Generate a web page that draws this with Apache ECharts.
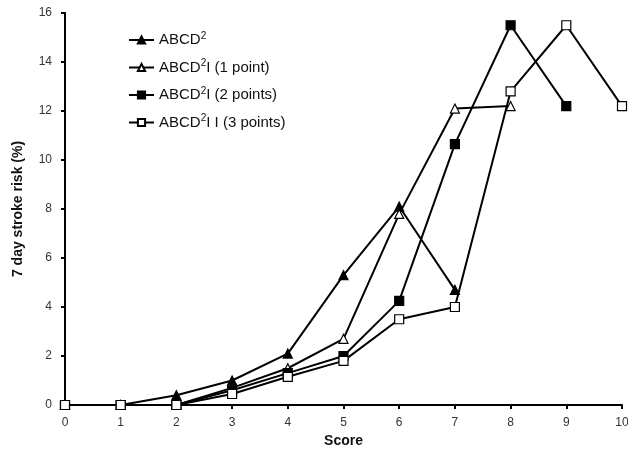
<!DOCTYPE html>
<html>
<head>
<meta charset="utf-8">
<script src="https://cdn.jsdelivr.net/npm/echarts@6/dist/echarts.min.js"></script>
<style>
html, body { margin: 0; padding: 0; background: #fff; }
#main { width: 628px; height: 455px; }
</style>
</head>
<body>
<div id="main"></div>
<script>
// score on x, 7 day stroke risk (%) on y
const scores = [0, 1, 2, 3, 4, 5, 6, 7, 8, 9, 10];
const abcd2 = [0, 0, 0.4, 1.0, 2.1, 5.3, 8.1, 4.7];
const abcd2i1 = [0, 0, 0, 0.7, 1.5, 2.7, 7.8, 12.1, 12.2];
const abcd2i2 = [0, 0, 0, 0.6, 1.3, 2.0, 4.25, 10.65, 15.5, 12.2];
const abcd2i3 = [0, 0, 0, 0.45, 1.15, 1.8, 3.5, 4.0, 12.8, 15.5, 12.2];
const yTicks = [0, 2, 4, 6, 8, 10, 12, 14, 16];

const names = ['ABCD2', 'ABCD2I1', 'ABCD2I2', 'ABCD2I3'];
const labels = {
    ABCD2: 'ABCD{sup|2}',
    ABCD2I1: 'ABCD{sup|2}I (1 point)',
    ABCD2I2: 'ABCD{sup|2}I (2 points)',
    ABCD2I3: 'ABCD{sup|2}I I (3 points)'
};

function pairs(vals) {
    return vals.map((v, i) => [scores[i], v]);
}

function line(name, vals, symbol, filled) {
    return {
        name: name,
        type: 'line',
        data: pairs(vals),
        symbol: symbol,
        symbolSize: 9,
        lineStyle: { color: '#000', width: 2 },
        itemStyle: {
            color: filled ? '#000' : '#fff',
            borderColor: '#000',
            borderWidth: 1.2
        },
        emphasis: { disabled: true },
        animation: false
    };
}

const chart = echarts.init(document.getElementById('main'));
chart.setOption({
    backgroundColor: '#fff',
    textStyle: { fontFamily: 'Liberation Sans, Arial, sans-serif' },
    grid: { left: 65, right: 6, top: 13, bottom: 50, outerBoundsMode: 'none' },
    legend: {
        orient: 'vertical',
        left: 123,
        top: 26,
        itemGap: 11,
        itemWidth: 25,
        itemHeight: 9,
        data: names,
        formatter: n => labels[n],
        textStyle: {
            color: '#111',
            fontSize: 15,
            rich: {
                sup: { fontSize: 10, verticalAlign: 'top', padding: [0, 0, 8, 0] }
            }
        }
    },
    xAxis: {
        type: 'value',
        min: 0,
        max: 10,
        interval: 1,
        name: 'Score',
        nameLocation: 'middle',
        nameGap: 29,
        nameTextStyle: { fontSize: 14, fontWeight: 'bold', color: '#111' },
        axisLine: { lineStyle: { color: '#000', width: 2 } },
        axisTick: { show: true, length: 4, lineStyle: { color: '#000', width: 2 } },
        axisLabel: { color: '#333', fontSize: 12, margin: 12 },
        splitLine: { show: false }
    },
    yAxis: {
        type: 'value',
        min: yTicks[0],
        max: yTicks[yTicks.length - 1],
        interval: 2,
        name: '7 day stroke risk (%)',
        nameLocation: 'middle',
        nameGap: 40,
        nameTextStyle: { fontSize: 14, fontWeight: 'bold', color: '#111' },
        axisLine: { show: true, lineStyle: { color: '#000', width: 2 } },
        axisTick: { show: true, length: 4, lineStyle: { color: '#000', width: 2 } },
        axisLabel: { color: '#333', fontSize: 12, margin: 13 },
        splitLine: { show: false }
    },
    series: [
        line('ABCD2', abcd2, 'triangle', true),
        line('ABCD2I1', abcd2i1, 'triangle', false),
        line('ABCD2I2', abcd2i2, 'rect', true),
        line('ABCD2I3', abcd2i3, 'rect', false)
    ]
});
</script>
</body>
</html>
